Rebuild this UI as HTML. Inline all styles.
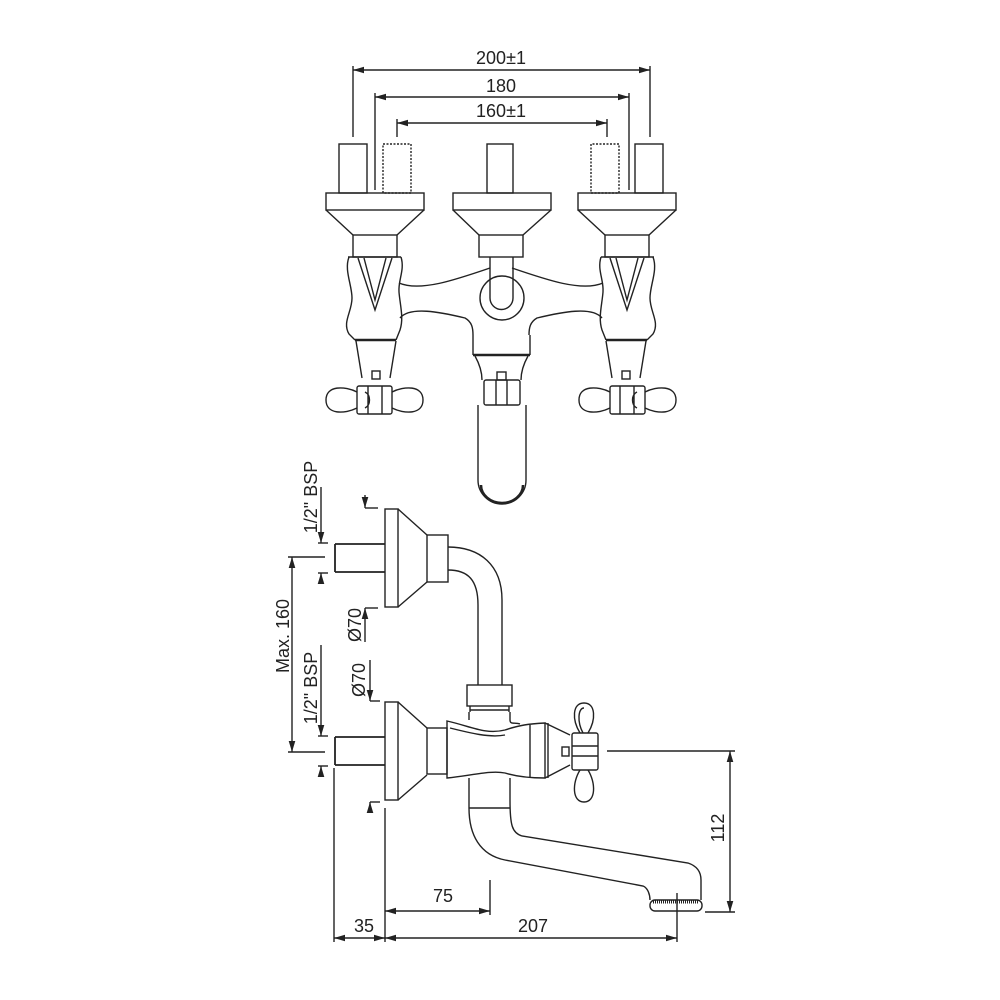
<!DOCTYPE html>
<html><head><meta charset="utf-8"><style>
html,body{margin:0;padding:0;background:#fff}
svg{display:block}
text{font-family:"Liberation Sans",Arial,sans-serif;font-size:18px;fill:#222}
</style></head><body>
<svg width="1000" height="1000" viewBox="0 0 1000 1000" xmlns="http://www.w3.org/2000/svg">
<defs>
<marker id="a" viewBox="0 0 10 6" refX="10" refY="3" markerWidth="8" markerHeight="5" orient="auto-start-reverse"><path d="M0,0 L10,3 L0,6 z" fill="#222"/></marker>
</defs>
<g fill="none" stroke="#222" stroke-width="1.4">
<line x1="353" y1="70" x2="650" y2="70" marker-start="url(#a)" marker-end="url(#a)"/>
<line x1="353" y1="66" x2="353" y2="137"/><line x1="650" y1="66" x2="650" y2="137"/>
<line x1="375" y1="97" x2="629" y2="97" marker-start="url(#a)" marker-end="url(#a)"/>
<line x1="375" y1="93" x2="375" y2="190"/><line x1="629" y1="93" x2="629" y2="190"/>
<line x1="397" y1="123" x2="607" y2="123" marker-start="url(#a)" marker-end="url(#a)"/>
<line x1="397" y1="119" x2="397" y2="137"/><line x1="607" y1="119" x2="607" y2="137"/>

<g id="L">
<rect x="339" y="144" width="28" height="49"/>
<rect x="383" y="144" width="28" height="49" stroke-dasharray="2,1.5"/>
<rect x="326" y="193" width="98" height="17"/>
<path d="M326,210 L353,235 M424,210 L397,235"/>
<rect x="353" y="235" width="44" height="22"/>
<path d="M348,257 L401,257"/>
<path d="M349,257 C344,270 352,285 352,298 C352,312 342,322 349,334 L355,340"/>
<path d="M401,257 C405,270 398,280 399,292 C400,305 404,318 400,330 L396,340"/>
<path d="M355,340 L396,340" stroke-width="2.5"/>
<path d="M358,258 L375,310 L392,258 M364,258 L375,300 L386,258"/>
<path d="M356,341 L362,378 M396,341 L390,378"/>
<rect x="372" y="371" width="8" height="8"/>
<rect x="357" y="386" width="35" height="28" rx="2"/>
<path d="M368,386 L368,414 M382,386 L382,414 M365,392 C371,395 371,405 365,408"/>
<path d="M357,392 C345,386 326,385 326,400 C326,415 345,414 357,408"/>
<path d="M392,392 C404,386 423,385 423,400 C423,415 404,414 392,408"/>
<path d="M399,283 C420,292 455,280 490,268"/>
<path d="M400,318 C410,306 440,312 465,318 C472,322 473,328 473,335"/>
</g>
<use href="#L" transform="translate(1002,0) scale(-1,1)"/>

<rect x="487" y="144" width="26" height="49"/>
<rect x="453" y="193" width="98" height="17"/>
<path d="M453,210 L479,235 M551,210 L523,235"/>
<rect x="479" y="235" width="44" height="22"/>
<path d="M490,257 L490,298 A11.5,11.5 0 0 0 513,298 L513,257"/>
<circle cx="502" cy="298" r="22"/>
<path d="M473,335 L473,355 M530,335 L530,355"/>
<path d="M473,355 L530,355" stroke-width="2.5"/>
<path d="M475,356 C480,365 482,372 482,380 M528,356 C523,365 521,372 521,380"/>
<rect x="497" y="372" width="9" height="8"/>
<rect x="484" y="380" width="36" height="25" rx="2"/>
<path d="M496,380 L496,405 M507,380 L507,405"/>
<path d="M478,405 L478,480 A24,24 0 0 0 526,480 L526,405"/>
<path d="M481,485 A21,18 0 0 0 523,485" stroke-width="2.5"/>

<rect x="385" y="509" width="13" height="98"/>
<path d="M398,509 L427,535 M398,607 L427,582"/>
<rect x="427" y="535" width="21" height="47"/>
<path d="M335,544 L385,544 M335,572 L385,572 M335,544 L335,572" stroke-width="1.8"/>
<path d="M448,547 C480,547 502,565 502,600 L502,685"/>
<path d="M448,570 C468,570 478,580 478,605 L478,685"/>
<rect x="467" y="685" width="45" height="21"/>
<path d="M470,706 L470,712 M509,706 L509,712 M470,710 L509,710"/>
<path d="M469,712 L469,720 M510,712 L510,720 C510,725 515,722 520,724"/>

<rect x="385" y="702" width="13" height="98"/>
<path d="M398,702 L427,728 M398,800 L427,775"/>
<rect x="427" y="728" width="20" height="46"/>
<path d="M335,737 L385,737 M335,765 L385,765 M335,737 L335,765" stroke-width="1.8"/>
<path d="M447,721 C470,726 485,735 505,730 C520,725 528,724 545,723 L545,778 C530,778 515,776 505,773 C490,770 470,776 447,778 Z"/>
<path d="M450,728 C470,733 490,738 505,735"/>
<path d="M530,725 L530,777"/>
<path d="M545,723 L570,735 M545,778 L570,765 M548,723 L548,778"/>
<rect x="562" y="747" width="7" height="9"/>
<rect x="572" y="733" width="26" height="37" rx="2"/>
<path d="M572,746 L598,746 M572,756 L598,756"/>
<path d="M580,733 C572,720 572,703 584,703 C596,703 596,720 588,733"/>
<path d="M583,733 C577,722 578,708 584,708"/>
<path d="M580,770 C572,783 572,802 584,802 C596,802 596,783 588,770"/>
<path d="M469,778 L469,808 M510,778 L510,800"/>
<path d="M469,808 L510,808"/>
<path d="M469,808 C469,835 480,855 505,860 L643,886 C648,888 650,895 650,900"/>
<path d="M510,800 C510,825 512,833 522,836 L688,863 C697,866 701,872 701,880 L701,900"/>
<rect x="650" y="900" width="52" height="11" rx="5"/>
<path d="M653,902 L699,902" stroke-width="3" stroke-dasharray="1,1"/>

<line x1="607" y1="751" x2="735" y2="751"/>
<line x1="730" y1="751" x2="730" y2="912" marker-start="url(#a)" marker-end="url(#a)"/>
<line x1="705" y1="912" x2="735" y2="912"/>
<line x1="334" y1="768" x2="334" y2="942"/>
<line x1="385" y1="808" x2="385" y2="942"/>
<line x1="677" y1="893" x2="677" y2="942"/>
<line x1="334" y1="938" x2="385" y2="938" marker-start="url(#a)" marker-end="url(#a)"/>
<line x1="385" y1="938" x2="677" y2="938" marker-start="url(#a)" marker-end="url(#a)"/>
<line x1="385" y1="911" x2="490" y2="911" marker-start="url(#a)" marker-end="url(#a)"/>
<line x1="490" y1="880" x2="490" y2="915"/>
<line x1="288" y1="557" x2="325" y2="557"/>
<line x1="288" y1="752" x2="325" y2="752"/>
<line x1="292" y1="557" x2="292" y2="752" marker-start="url(#a)" marker-end="url(#a)"/>
<line x1="321" y1="487" x2="321" y2="543" marker-end="url(#a)"/>
<line x1="321" y1="582" x2="321" y2="573" marker-end="url(#a)"/>
<line x1="318" y1="543" x2="328" y2="543"/><line x1="318" y1="573" x2="328" y2="573"/>
<line x1="321" y1="645" x2="321" y2="736" marker-end="url(#a)"/>
<line x1="321" y1="776" x2="321" y2="766" marker-end="url(#a)"/>
<line x1="318" y1="736" x2="328" y2="736"/><line x1="318" y1="766" x2="328" y2="766"/>
<line x1="365" y1="495" x2="365" y2="508" marker-end="url(#a)"/>
<line x1="365" y1="508" x2="378" y2="508"/>
<line x1="365" y1="642" x2="365" y2="608" marker-end="url(#a)"/>
<line x1="365" y1="608" x2="378" y2="608"/>
<line x1="370" y1="660" x2="370" y2="701" marker-end="url(#a)"/>
<line x1="370" y1="701" x2="380" y2="701"/>
<line x1="370" y1="812" x2="370" y2="802" marker-end="url(#a)"/>
<line x1="370" y1="802" x2="380" y2="802"/>
</g>
<g>
<text x="501" y="64" text-anchor="middle">200±1</text>
<text x="501" y="92" text-anchor="middle">180</text>
<text x="501" y="117" text-anchor="middle">160±1</text>
<text x="533" y="932" text-anchor="middle">207</text>
<text x="364" y="932" text-anchor="middle">35</text>
<text x="443" y="902" text-anchor="middle">75</text>
<text transform="translate(724,828) rotate(-90)" text-anchor="middle">112</text>
<text transform="translate(289,636) rotate(-90)" text-anchor="middle">Max. 160</text>
<text transform="translate(317,497) rotate(-90)" text-anchor="middle">1/2" BSP</text>
<text transform="translate(317,688) rotate(-90)" text-anchor="middle">1/2" BSP</text>
<text transform="translate(361,625) rotate(-90)" text-anchor="middle">Ø70</text>
<text transform="translate(365,680) rotate(-90)" text-anchor="middle">Ø70</text>
</g>
</svg>
</body></html>
